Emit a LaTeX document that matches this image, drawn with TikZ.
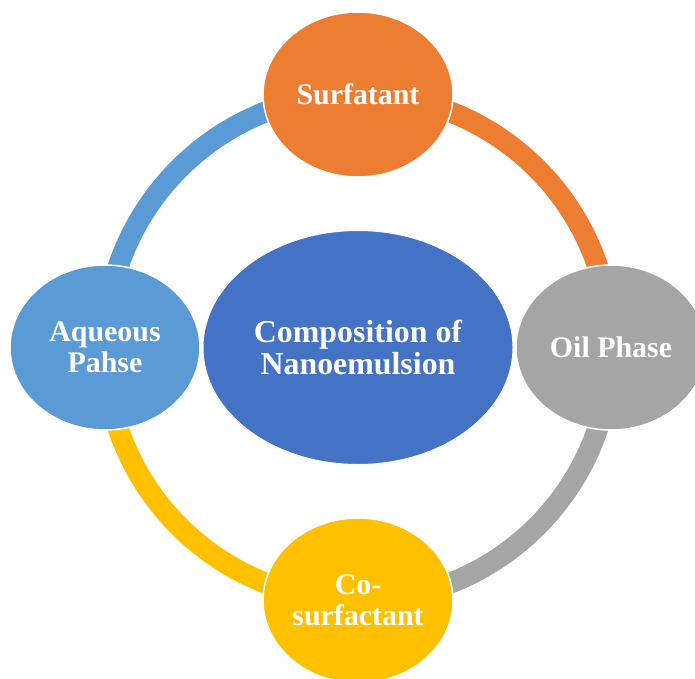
\documentclass[tikz,border=0pt]{standalone}
\usepackage{fontspec}
\setmainfont{Liberation Serif}
\definecolor{surfOrange}{HTML}{ED7D31}
\definecolor{oilGray}{HTML}{A5A5A5}
\definecolor{coYellow}{HTML}{FFC000}
\definecolor{aqBlue}{HTML}{5B9BD5}
\definecolor{hubBlue}{HTML}{4472C4}
\usetikzlibrary{shapes.geometric}
\begin{document}
\begin{tikzpicture}[x=1bp,y=1bp,
  sat/.style={ellipse, minimum width=190bp, minimum height=165bp, inner sep=0pt,
    draw=white, line width=1.5bp, text=white, align=center,
    font=\bfseries\fontsize{30}{31}\selectfont},
  hub/.style={ellipse, minimum width=310bp, minimum height=234bp, inner sep=0pt,
    fill=hubBlue, draw=white, line width=1bp, text=white, align=center,
    font=\bfseries\fontsize{32}{33}\selectfont},
  ringarc/.style={line width=21bp, line cap=butt}]
\useasboundingbox (0,0) rectangle (695,-679);
\fill[white] (0,0) rectangle (695,-679);

% centre of the cycle and the four stations on it
\coordinate (ctr) at (358,-347.5);
\path (ctr) ++(90:253)  coordinate (pTop);
\path (ctr) ++(0:253)   coordinate (pRight);
\path (ctr) ++(-90:253) coordinate (pBottom);
\path (ctr) ++(180:253) coordinate (pLeft);

% coloured ring segments, each running clockwise to the next station
\draw[ringarc, surfOrange] (pTop)    arc[start angle=90,  end angle=0,    radius=253];
\draw[ringarc, oilGray]    (pRight)  arc[start angle=0,   end angle=-90,  radius=253];
\draw[ringarc, coYellow]   (pBottom) arc[start angle=-90, end angle=-180, radius=253];
\draw[ringarc, aqBlue]     (pLeft)   arc[start angle=180, end angle=90,   radius=253];

% hub
\node[hub] (hub) at (ctr) {Composition of\\Nanoemulsion};

% stations
\node[sat, fill=surfOrange] (surf) at (pTop)    {Surfatant};
\node[sat, fill=oilGray]    (oil)  at (pRight)  {Oil Phase};
\node[sat, fill=coYellow]   (cosurf) at (pBottom) {Co-\\surfactant};
\node[sat, fill=aqBlue]     (aq)   at (pLeft)   {Aqueous\\Pahse};
\end{tikzpicture}
\end{document}
